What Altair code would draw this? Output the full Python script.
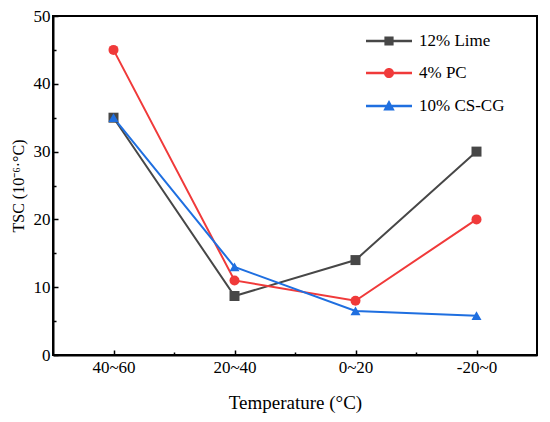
import altair as alt
import pandas as pd

categories = ["40~60", "20~40", "0~20", "-20~0"]
series_names = ["12% Lime", "4% PC", "10% CS-CG"]
lime = [35, 8.7, 14, 30]
pc = [45, 11, 8, 20]
cscg = [35, 13, 6.5, 5.8]
colors = ["#474747", "#f03a3a", "#1f6fe0"]
shapes = ["square", "circle", "triangle-up"]

rows = []
for name, vals in zip(series_names, [lime, pc, cscg]):
    for i, (c, v) in enumerate(zip(categories, vals)):
        rows.append({"series": name, "cat": c, "idx": i, "tsc": v})
df = pd.DataFrame(rows)

FONT = "Liberation Serif"
W, H = 484, 339

bar = "M-1,-0.05H1V0.05H-1Z"
leg_paths = [
    bar + " M-0.2,-0.2H0.2V0.2H-0.2Z",
    bar + " M0.22,0A0.22,0.22 0 1,1 -0.22,0A0.22,0.22 0 1,1 0.22,0Z",
    bar + " M0,-0.26L0.25,0.2H-0.25Z",
]

label_list = "[" + ",".join("'%s'" % c for c in categories) + "]"

x_scale = alt.Scale(domain=[-0.5, 3.5], nice=False, zero=False)
y_scale = alt.Scale(domain=[0, 50], nice=False)

x_main = alt.Axis(
    orient="bottom", values=[0, 1, 2, 3],
    labelExpr=label_list + "[datum.value]",
    title="Temperature (°C)", grid=False, ticks=False,
    labelPadding=4, titlePadding=18,
)
y_main = alt.Axis(
    orient="left", values=[0, 10, 20, 30, 40, 50],
    title="TSC (10⁻⁶·°C)", grid=False, ticks=False,
    labelPadding=3, titlePadding=7, titleFontSize=16,
)
x_ticks = alt.Axis(
    orient="top", offset=-H, values=[0, 0.5, 1, 1.5, 2, 2.5, 3],
    labels=False, title=None, grid=False, domain=False,
    tickSize={"condition": {"test": "datum.value % 1 === 0", "value": 5}, "value": 3},
)
y_ticks = alt.Axis(
    orient="right", offset=-W, values=[0, 5, 10, 15, 20, 25, 30, 35, 40, 45, 50],
    labels=False, title=None, grid=False, domain=False,
    tickSize={"condition": {"test": "datum.value % 10 === 0", "value": 5}, "value": 3},
)

color_scale = alt.Scale(domain=series_names, range=colors)

lines = alt.Chart(df).mark_line(strokeWidth=2).encode(
    x=alt.X("idx:Q", scale=x_scale, axis=x_main),
    y=alt.Y("tsc:Q", scale=y_scale, axis=y_main),
    color=alt.Color("series:N", scale=color_scale, legend=None),
    detail="series:N",
)
points = alt.Chart(df).mark_point(filled=True, opacity=1, size=100).encode(
    x=alt.X("idx:Q", scale=x_scale, axis=x_ticks),
    y=alt.Y("tsc:Q", scale=y_scale, axis=y_ticks),
    color=alt.Color("series:N", scale=color_scale, legend=None),
    shape=alt.Shape("series:N", scale=alt.Scale(domain=series_names, range=shapes), legend=None),
)
legend_layer = alt.Chart(df).mark_point(filled=True, opacity=0).encode(
    x=alt.X("idx:Q", scale=x_scale, axis=None),
    y=alt.Y("tsc:Q", scale=y_scale, axis=None),
    color=alt.Color("series:N", scale=color_scale, legend=alt.Legend(title=None)),
    shape=alt.Shape("series:N", scale=alt.Scale(domain=series_names, range=leg_paths),
                    legend=alt.Legend(title=None)),
)

chart = alt.layer(lines, points, legend_layer).resolve_scale(
    color="independent", shape="independent"
).resolve_axis(
    x="independent", y="independent"
).properties(
    width=W, height=H,
    autosize=alt.AutoSizeParams(type="none"),
    padding={"left": 45, "top": 8, "right": 5, "bottom": 60},
    background="white",
).configure_view(
    stroke="black", strokeWidth=2
).configure_axis(
    domainColor="black", domainWidth=2, tickColor="black", tickWidth=1.5,
    labelFont=FONT, titleFont=FONT, labelFontSize=17, titleFontSize=19,
    labelColor="black", titleColor="black", titleFontWeight="normal",
).configure_legend(
    orient="none", legendX=312, legendY=1, symbolSize=2116, symbolOpacity=1,
    labelFont=FONT, labelFontSize=17, labelColor="black", labelOffset=6,
    rowPadding=-14.5, padding=0,
)

chart.save("out.html", embed_options={"renderer": "svg", "actions": False})
